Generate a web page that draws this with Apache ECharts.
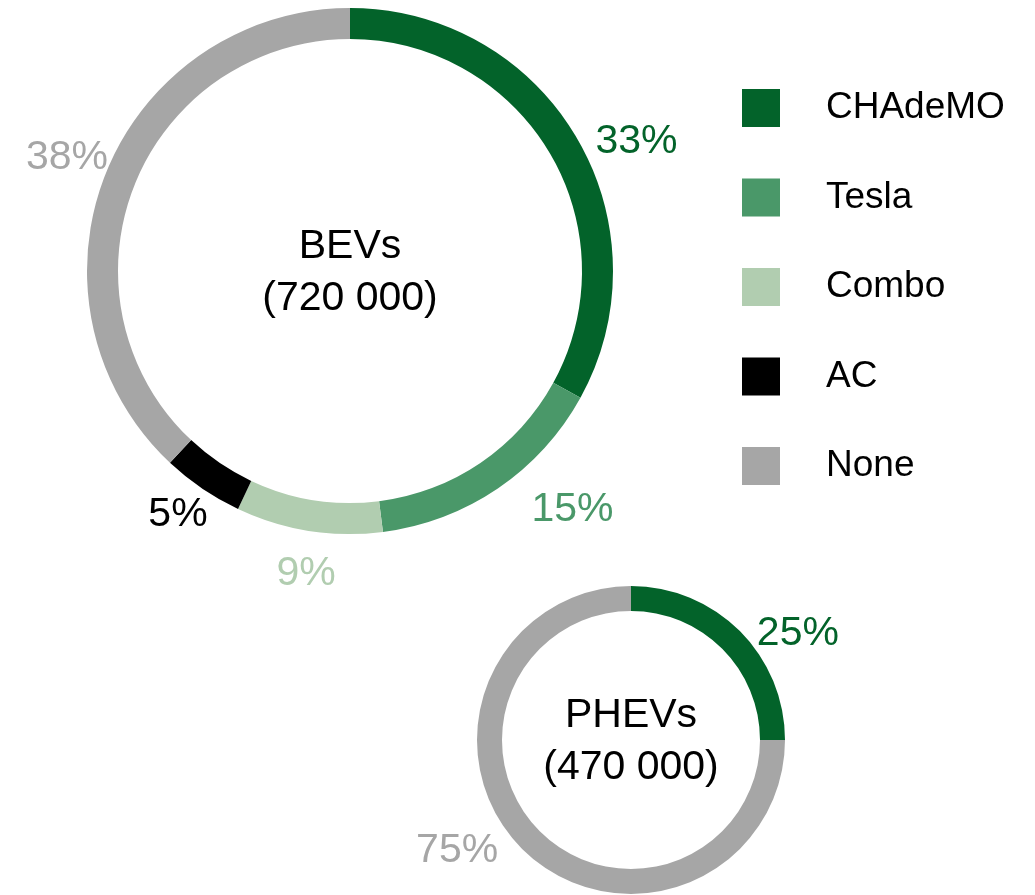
<!DOCTYPE html>
<html>
<head>
<meta charset="utf-8">
<script src="https://cdn.jsdelivr.net/npm/echarts@6/dist/echarts.min.js"></script>
<style>
  html, body { margin: 0; padding: 0; background: #fff; }
  #chart { width: 1035px; height: 895px; }
</style>
</head>
<body>
<div id="chart"></div>
<script>
// connector share (%) of vehicles, by charging connector
const connectors = ['CHAdeMO', 'Tesla', 'Combo', 'AC', 'None'];
const connectorColors = ['#03632a', '#4a9869', '#b1cdb0', '#000000', '#a6a6a6'];
const groups = ['BEVs', 'PHEVs'];
const groupTotals = [720000, 470000];
const bevShare = [33, 15, 9, 5, 38];
const phevShare = [25, 0, 0, 0, 75];

const FONT = "'Liberation Sans', Arial, sans-serif";

// ring placement in px
const rings = [
  { center: [350, 271], radius: [232, 263] },
  { center: [631, 740], radius: [129, 154] },
];

// labels were hand placed in the original: [angle shift deg, distance past outer edge px]
const labelNudge = [
  [[6, 52], [-9, 62], [-0.7, 41], [1.2, 34], [0.5, 42.5]],
  [[12, 45], [13, 51]],
];
const TEXT_DROP = 2; // glyphs sit a bit low vs the em box

const fmtTotal = (n) => String(n).replace(/\B(?=(\d{3})+(?!\d))/g, ' ');

function buildSeries(gi, shares) {
  const items = connectors
    .map((name, i) => ({ name, value: shares[i], color: connectorColors[i] }))
    .filter((d) => d.value > 0);
  const total = items.reduce((s, d) => s + d.value, 0);
  const mids = [];
  let acc = 0;
  items.forEach((d) => {
    mids.push(((acc + d.value / 2) / total) * 360);
    acc += d.value;
  });
  const [cx, cy] = rings[gi].center;
  const outer = rings[gi].radius[1];

  return {
    type: 'pie',
    name: groups[gi],
    center: rings[gi].center,
    radius: rings[gi].radius,
    startAngle: 90,
    clockwise: true,
    avoidLabelOverlap: false,
    silent: true,
    itemStyle: { borderWidth: 0 },
    emphasis: { disabled: true },
    label: {
      show: true,
      position: 'outside',
      formatter: '{c}%',
      fontSize: 41,
      fontFamily: FONT,
    },
    labelLine: { show: false },
    data: items.map((d) => ({
      name: d.name,
      value: d.value,
      itemStyle: { color: d.color },
      label: { color: d.color },
    })),
    labelLayout: (p) => {
      const [dAng, dR] = labelNudge[gi][p.dataIndex];
      const a = ((mids[p.dataIndex] + dAng) * Math.PI) / 180;
      const r = outer + dR;
      return {
        x: cx + r * Math.sin(a),
        y: cy - r * Math.cos(a) + TEXT_DROP,
        align: 'center',
        verticalAlign: 'middle',
      };
    },
  };
}

const chart = echarts.init(document.getElementById('chart'));

const option = {
  animation: false,
  backgroundColor: '#fff',
  legend: {
    orient: 'vertical',
    left: 742,
    top: 87,
    padding: 0,
    itemWidth: 38,
    itemHeight: 38,
    itemGap: 47.5,
    icon: 'rect',
    selectedMode: false,
    data: connectors,
    textStyle: {
      fontSize: 37,
      fontFamily: FONT,
      color: '#000',
      lineHeight: 38,
      padding: [4, 0, 0, 41],
    },
  },
  graphic: groups.map((g, gi) => ({
    type: 'text',
    x: rings[gi].center[0],
    y: rings[gi].center[1] + TEXT_DROP,
    silent: true,
    style: {
      text: `${g}\n(${fmtTotal(groupTotals[gi])})`,
      fontSize: 41,
      fontFamily: FONT,
      lineHeight: 52,
      fill: '#000',
      align: 'center',
      verticalAlign: 'middle',
      textAlign: 'center',
      textVerticalAlign: 'middle',
    },
  })),
  series: [buildSeries(0, bevShare), buildSeries(1, phevShare)],
};

chart.setOption(option);
</script>
</body>
</html>
